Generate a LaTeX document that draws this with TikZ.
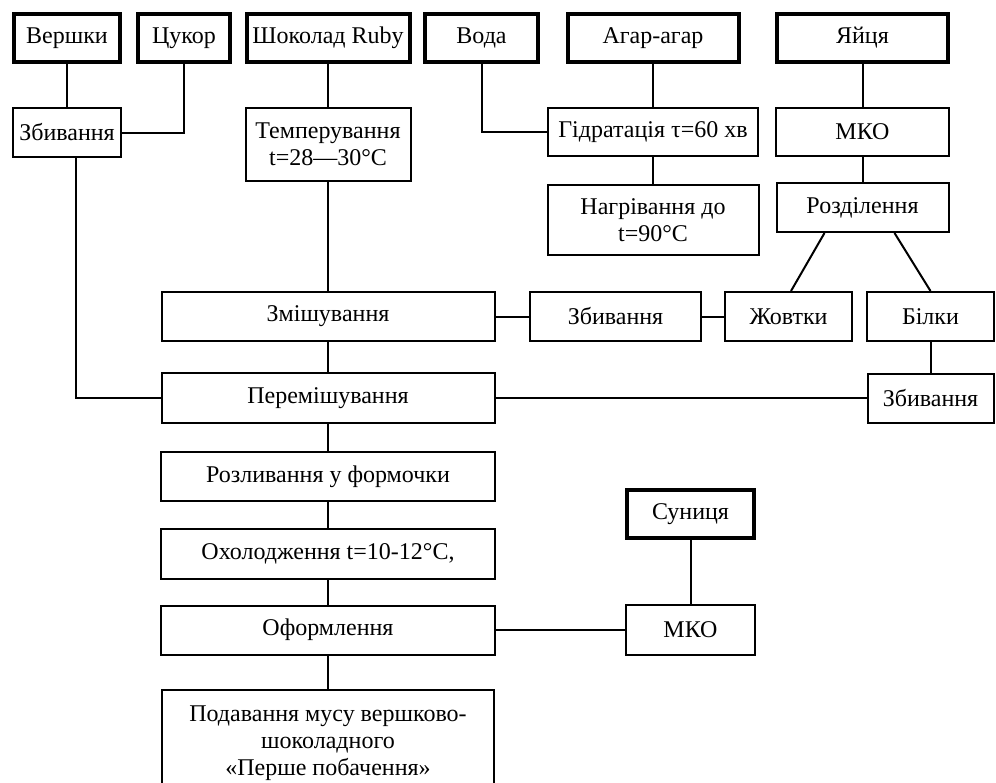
\documentclass[tikz,border=0pt]{standalone}
\usepackage{fontspec}
\setmainfont{Liberation Serif}
\begin{document}
\begin{tikzpicture}[x=0.5pt,y=-0.5pt]
\tikzstyle{every node}+=[inner sep=0pt, align=center, font=\fontsize{12}{13.5}\selectfont]
\tikzstyle{ingr}=[draw, line width=2pt]
\tikzstyle{proc}=[draw, line width=1pt]
\tikzstyle{link}=[line width=1pt]
\useasboundingbox (0,0) rectangle (996,782);
\node [ingr, minimum width=53pt, minimum height=24pt] (verhky) at (67,38) {Вершки};
\node [ingr, minimum width=46pt, minimum height=24pt] (tsukor) at (184,38) {Цукор};
\node [ingr, minimum width=81.5pt, minimum height=24pt] (shokolad) at (328,38) {Шоколад Ruby};
\node [ingr, minimum width=56.5pt, minimum height=24pt] (voda) at (481.5,38) {Вода};
\node [ingr, minimum width=85.5pt, minimum height=24pt] (agar) at (653,38) {Агар-агар};
\node [ingr, minimum width=85.5pt, minimum height=24pt] (yaytsya) at (862.5,38) {Яйця};
\node [proc, minimum width=54pt, minimum height=24.5pt] (zbyv1) at (67,132.5) {Збивання};
\node [proc, minimum width=82.5pt, minimum height=36.5pt] (temper) at (328,144.5) {Темперування\\t=28—30°C};
\node [proc, minimum width=105pt, minimum height=24pt] (hidr) at (653,132) {Гідратація τ=60 хв};
\node [proc, minimum width=86.5pt, minimum height=24pt] (mko1) at (862.5,132) {МКО};
\node [proc, minimum width=105.5pt, minimum height=35pt] (nahriv) at (653,220) {Нагрівання до\\t=90°C};
\node [proc, minimum width=86pt, minimum height=24.5pt] (rozdil) at (862.5,207.5) {Розділення};
\node [proc, minimum width=166.5pt, minimum height=24.5pt] (zmish) at (328,316.5) {Змішування};
\node [proc, minimum width=85.5pt, minimum height=24.5pt] (zbyv2) at (615.5,316.5) {Збивання};
\node [proc, minimum width=63.5pt, minimum height=24.5pt] (zhovt) at (788.5,316.5) {Жовтки};
\node [proc, minimum width=63.5pt, minimum height=24.5pt] (bilky) at (930.5,316.5) {Білки};
\node [proc, minimum width=166.5pt, minimum height=25pt] (peremish) at (328,398) {Перемішування};
\node [proc, minimum width=63pt, minimum height=24.5pt] (zbyv3) at (930.5,398) {Збивання};
\node [proc, minimum width=167pt, minimum height=24.5pt] (rozlyv) at (328,476.5) {Розливання у формочки};
\node [proc, minimum width=167pt, minimum height=25pt] (okhol) at (328,554) {Охолодження t=10-12°C,};
\node [proc, minimum width=167pt, minimum height=24.5pt] (oform) at (328,630) {Оформлення};
\node [proc, minimum width=166pt, minimum height=53pt] (podav) at (328,743) {Подавання мусу вершково-\\шоколадного\\«Перше побачення»};
\node [ingr, minimum width=63.5pt, minimum height=24pt] (sunytsya) at (690.5,514) {Суниця};
\node [proc, minimum width=64.5pt, minimum height=25pt] (mko2) at (690.5,630) {МКО};
\draw [link] (verhky) -- (zbyv1);
\draw [link] (tsukor) |- (zbyv1);
\draw [link] ([xshift=4.5pt]zbyv1.south) |- (peremish);
\draw [link] (shokolad) -- (temper);
\draw [link] (temper) -- (zmish);
\draw [link] (zmish) -- (peremish);
\draw [link] (peremish) -- (rozlyv);
\draw [link] (rozlyv) -- (okhol);
\draw [link] (okhol) -- (oform);
\draw [link] (oform) -- (podav);
\draw [link] (voda) |- (hidr);
\draw [link] (agar) -- (hidr);
\draw [link] (hidr) -- (nahriv);
\draw [link] (yaytsya) -- (mko1);
\draw [link] (mko1) -- (rozdil);
\draw [link] ([xshift=-19pt]rozdil.south) -- ([xshift=1.25pt]zhovt.north);
\draw [link] ([xshift=16pt]rozdil.south) -- (bilky.north);
\draw [link] (zmish) -- (zbyv2);
\draw [link] (zbyv2) -- (zhovt);
\draw [link] (bilky) -- (zbyv3);
\draw [link] (zbyv3) -- (peremish);
\draw [link] (oform) -- (mko2);
\draw [link] (sunytsya) -- (mko2);
\end{tikzpicture}
\end{document}
